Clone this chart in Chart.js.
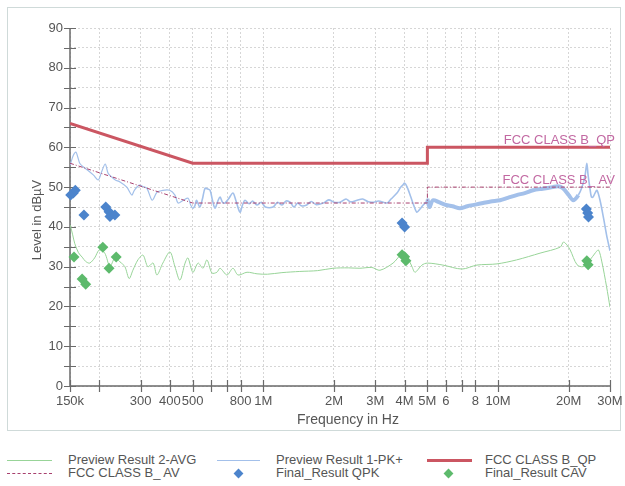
<!DOCTYPE html>
<html><head><meta charset="utf-8">
<script src="https://cdn.jsdelivr.net/npm/chart.js@4/dist/chart.umd.min.js"></script>
<style>
html,body{margin:0;padding:0;background:#fff;}
#wrap{position:relative;width:625px;height:486px;background:#fff;font-family:"Liberation Sans",Arial,sans-serif;color:#555;overflow:hidden;}
#frame{position:absolute;left:7px;top:7px;width:614px;height:424px;border:1.5px solid #cfdad9;box-sizing:border-box;}
#c{position:absolute;left:0;top:0;}
.lg{position:absolute;font-size:13px;line-height:14px;color:#555;white-space:nowrap;}
.ln{position:absolute;height:0;}
.dm{position:absolute;width:7px;height:7px;transform:rotate(45deg);}
</style></head>
<body>
<div id="wrap">
  <div id="frame"></div>
  <canvas id="c" width="625" height="440"></canvas>
  <div id="legend"></div>
</div>
<script>
// ---- data (frequency in kHz, level in dBµV) ----
const xTickValues = [150,200,300,400,500,600,700,800,1000,2000,3000,4000,5000,6000,7000,8000,10000,20000,30000];
const xTickLabels = ['150k','','300','400','500','','','800','1M','2M','3M','4M','5M','6','','8','10M','20M','30M'];

const pkFreq = [150,151,155,159,162,165,170,178,189,198,205,212,218,226,234,245,262,275,282,296,305,319,336,352,373,399,420,433,456,478,490,500,510,519,536,550,564,580,593,608,622,640,654,670,686,710,742,765,795,815,835,870,900,939,980,1020,1100,1150,1200,1250,1300,1350,1400,1450,1530,1600,1680,1800,1900,2000,2120,2250,2350,2510,2650,2800,2930,3100,3360,3500,3710,3850,3930,4000,4100,4250,4400,4510,4650,4800,4980,5000,5100,5280,5600,6000,6400,6880,7400,8000,8630,9300,10200,11000,12000,13000,14100,15500,17100,18000,18900,20000,20900,22000,22800,23500,23900,24200,24600,25000,25400,25900,26400,27200,28200,29000,30000];
const pkLevel = [55.5,56,58,58.8,57.5,56,55.2,54.3,53,51.8,54,55.8,53.5,52.5,51.8,51.3,50,48,49.2,50.5,50.2,49.7,46.7,48.7,49.2,49.2,48,46,46.7,47.2,45.5,44.7,45.2,46.7,45,47,49.7,49.5,49.2,46.5,44.7,46.5,47.5,46.2,46,47,48.5,46.5,43.7,45.5,46.7,45.8,46.5,45.5,46.2,45,45,46.2,45.5,46.5,46.2,45,46,45.3,45.5,46.4,45.6,46,46.8,46.2,46.2,47,46.3,46.7,47,46.3,46.2,46.5,46,47,48.5,50,50.5,51,50,47.5,45,43.7,44.5,45.5,46.5,47,45,46.7,46.2,45.5,45.2,44.7,45.2,45.6,46,46.4,46.7,47.3,48,48.5,49.2,49.6,50,50.2,49.7,48,46.7,48,50,53,56,53,50,47.5,47.5,48.5,49.2,46.7,42,38,34];

const avgFreq = [150,151,154,157,163,169,175,182,191,200,211,222,233,245,257,268,278,292,307,322,339,352,373,400,420,441,464,477,501,527,553,575,604,634,654,700,742,780,852,940,1040,1200,1430,1700,1980,2300,2580,2900,3140,3570,3850,4000,4130,4300,4430,4740,5000,5820,7020,8130,9900,12000,15100,18400,19000,19700,20300,21700,23000,24500,26000,26800,27700,29000,30000];
const avgLevel = [40.5,40,38,35.9,33.5,32.4,31.3,30.9,32.2,34.2,33.4,30,32.2,31.2,30,27,29.1,31.7,32.9,30,30.9,27.9,30.9,33.7,30,26.6,30.9,32.2,28.6,30.9,29.6,31.7,28.4,28.6,29.6,27.9,29.6,27.9,28.6,28.2,28.1,28.5,28.8,29,29.6,29.7,29.6,29.8,29.1,30.9,33,33.5,32.2,30,28.6,30.4,30.9,30.4,29.4,30.4,30.7,31.7,33.4,34.9,36.2,35.4,34.2,30.5,30,31.5,33.5,34.2,31.2,25,19.8];

const qpFreq = [150,500,5000,5000,30000];
const qpLevel = [66,56,56,60,60];
const avFreq = [150,500,5000,5000,30000];
const avLevel = [56,46,46,50,50];

const qpkFreq = [151,155,158,172,213,220,222,233,3900,4000,23800,24100,24300];
const qpkLevel = [48,48.5,49.2,43,45,43.8,42.6,43,41,40,44.5,43.5,42.5];
const cavFreq = [156,169,175,207,220,236,3900,4000,4050,23900,24200];
const cavLevel = [32.4,26.9,25.6,34.9,29.6,32.4,33,32.5,31.5,31.5,30.5];

const seriesNames = ['Preview Result 2-AVG','Preview Result 1-PK+','FCC CLASS B_QP','FCC CLASS B_ AV','Final_Result QPK','Final_Result CAV'];
const limitLabels = ['FCC CLASS B_QP','FCC CLASS B_ AV'];
const yTitle = 'Level in dBµV';
const xTitle = 'Frequency in Hz';

// ---- colours ----
const C = {avg:'#98d498', pk:'#a3c0ea', qp:'#cb5662', av:'#a8406e', qpk:'#4c84cc', cav:'#5dba6c', lbl:'#c268a2', txt:'#555'};
const FONT = '"Liberation Sans", Arial, sans-serif';

const pts = (fx, ly) => fx.map((f,i)=>({x:f, y:ly[i]}));

const decor = {
  id:'decor',
  beforeDatasetsDraw(chart){
    const {ctx, chartArea:a, scales:{x,y}} = chart;
    ctx.save();
    ctx.strokeStyle='#6a6a6a';
    ctx.lineWidth=1.5;
    ctx.beginPath();
    ctx.moveTo(a.left, a.top); ctx.lineTo(a.left, a.bottom); ctx.lineTo(a.right, a.bottom);
    ctx.stroke();
    ctx.lineWidth=1.2;
    ctx.beginPath();
    y.ticks.forEach(t=>{const py=Math.round(y.getPixelForValue(t.value))+0.5; ctx.moveTo(a.left-6,py); ctx.lineTo(a.left+6,py);});
    x.ticks.forEach(t=>{const px=Math.round(x.getPixelForValue(t.value))+0.5; ctx.moveTo(px,a.bottom-6); ctx.lineTo(px,a.bottom+6);});
    ctx.stroke();
    ctx.restore();
  },
  afterDatasetsDraw(chart){
    const {ctx, chartArea:a, scales:{x,y}} = chart;
    ctx.save();
    ctx.fillStyle=C.lbl;
    ctx.font='13px '+FONT;
    ctx.textAlign='right'; ctx.textBaseline='alphabetic';
    const xr = x.getPixelForValue(qpFreq[qpFreq.length-1])+5;
    ctx.fillText(limitLabels[0], xr, y.getPixelForValue(qpLevel[qpLevel.length-1])-3);
    ctx.fillText(limitLabels[1], xr, y.getPixelForValue(avLevel[avLevel.length-1])-3);
    ctx.fillStyle=C.txt;
    ctx.font='14px '+FONT;
    ctx.textAlign='center';
    ctx.fillText(xTitle, 348, 424);
    ctx.font='13px '+FONT;
    ctx.translate(37, 220);
    ctx.rotate(-Math.PI/2);
    ctx.textBaseline='middle';
    ctx.fillText(yTitle, 0, 0);
    ctx.restore();
  }
};

new Chart(document.getElementById('c'), {
  type:'line',
  data:{datasets:[
    {label:seriesNames[0], data:pts(avgFreq,avgLevel), borderColor:C.avg, borderWidth:1, pointRadius:0, tension:0.3, order:5},
    {label:seriesNames[1], data:pts(pkFreq,pkLevel), borderColor:C.pk, borderWidth:1.2, pointRadius:0, tension:0.3, order:4,
      segment:{borderWidth:c=>{const f=c.p0.parsed.x; return (f>=5000 && f<22000)?4:(f>=500?1.6:1.2);}}},
    {label:seriesNames[2], data:pts(qpFreq,qpLevel), borderColor:C.qp, borderWidth:3, pointRadius:0, tension:0, order:3},
    {label:seriesNames[3], data:pts(avFreq,avLevel), borderColor:C.av, borderWidth:1, borderDash:[4,2,1,2], pointRadius:0, tension:0, order:3},
    {label:seriesNames[4], data:pts(qpkFreq,qpkLevel), showLine:false, pointStyle:'rectRot', pointRadius:5.5, pointBackgroundColor:C.qpk, pointBorderColor:C.qpk, borderColor:C.qpk, pointBorderWidth:0, clip:false, order:1},
    {label:seriesNames[5], data:pts(cavFreq,cavLevel), showLine:false, pointStyle:'rectRot', pointRadius:5.5, pointBackgroundColor:C.cav, pointBorderColor:C.cav, borderColor:C.cav, pointBorderWidth:0, clip:false, order:2}
  ]},
  options:{
    responsive:false, animation:false, devicePixelRatio:1,
    layout:{padding:{left:0,right:15,top:28,bottom:0}},
    plugins:{legend:{display:false}, tooltip:{enabled:false}},
    scales:{
      x:{type:'logarithmic', min:150, max:30000,
        afterBuildTicks:s=>{s.ticks = xTickValues.map(v=>({value:v}));},
        afterFit:s=>{s.height=54; s.paddingLeft=0; s.paddingRight=0;},
        ticks:{autoSkip:false, maxRotation:0, padding:8, color:C.txt, font:{family:FONT,size:13},
          callback:(v,i)=>xTickLabels[i]},
        grid:{color:'#d6d6d6', lineWidth:1, drawTicks:false},
        border:{display:false, dash:[2,2]}
      },
      y:{type:'linear', min:0, max:90,
        afterFit:s=>{s.width=70; s.paddingTop=0; s.paddingBottom=0;},
        ticks:{stepSize:5, padding:7, color:C.txt, font:{family:FONT,size:13},
          callback:v=>(v%10===0?String(v):'')},
        grid:{color:'#d6d6d6', lineWidth:1, drawTicks:false},
        border:{display:false, dash:[2,2]}
      }
    }
  },
  plugins:[decor]
});

// ---- legend ----
const lg = document.getElementById('legend');
const items = [
  {t:seriesNames[0], kind:'line', c:C.avg, w:1, sx:7, sw:45, tx:68, row:0},
  {t:seriesNames[1], kind:'line', c:C.pk, w:1, sx:217, sw:43, tx:276, row:0},
  {t:seriesNames[2], kind:'line', c:C.qp, w:3, sx:427, sw:45, tx:485, row:0},
  {t:seriesNames[3], kind:'dash', c:C.av, w:1, sx:7, sw:45, tx:68, row:1},
  {t:seriesNames[4], kind:'dia', c:C.qpk, sx:238, tx:276, row:1},
  {t:seriesNames[5], kind:'dia', c:C.cav, sx:448, tx:485, row:1}
];
const rowY=[460,473];
items.forEach(it=>{
  const cy=rowY[it.row];
  const s=document.createElement('div');
  if(it.kind==='line'){
    s.className='ln'; s.style.left=it.sx+'px'; s.style.width=it.sw+'px';
    s.style.top=(cy-it.w/2)+'px'; s.style.borderTop=it.w+'px solid '+it.c;
  } else if(it.kind==='dash'){
    s.className='ln'; s.style.left=it.sx+'px'; s.style.width=it.sw+'px';
    s.style.top=cy+'px'; s.style.borderTop='1px dashed '+it.c;
  } else {
    s.className='dm'; s.style.left=(it.sx-3.5)+'px'; s.style.top=(cy-3.5)+'px'; s.style.background=it.c;
  }
  lg.appendChild(s);
  const t=document.createElement('div');
  t.className='lg'; t.textContent=it.t; t.style.left=it.tx+'px'; t.style.top=(cy-7)+'px';
  lg.appendChild(t);
});
</script>
</body></html>
